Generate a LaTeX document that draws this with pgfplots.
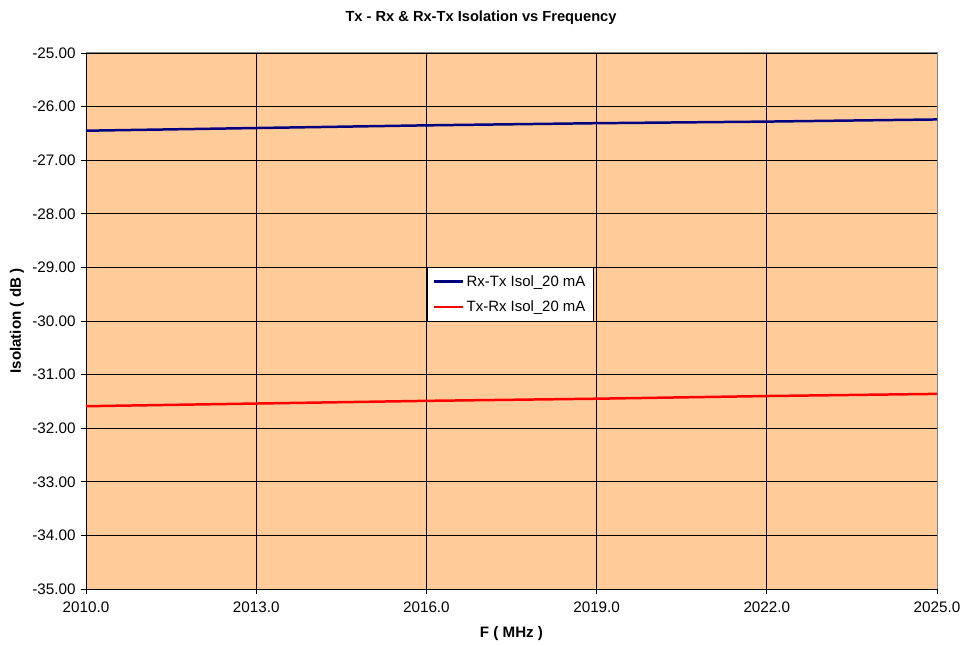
\documentclass[border=0pt]{standalone}
\usepackage{fontspec}
\setmainfont{Liberation Sans}
\usepackage{pgfplots}
\pgfplotsset{compat=1.18}
\definecolor{peach}{HTML}{FFCC99}
\definecolor{navy}{HTML}{000080}
\begin{document}
\begin{tikzpicture}[x=1bp,y=1bp]
\path[use as bounding box] (0,0) rectangle (962,646);
\begin{axis}[
  at={(86bp,57bp)}, anchor=south west,
  scale only axis, width=851bp, height=536bp,
  xmin=2010, xmax=2025, ymin=-35, ymax=-25,
  xtick={2010,2013,...,2025}, ytick={-35,-34,...,-25},
  axis background/.style={fill=peach},
  grid=major, major grid style={black, line width=0.8pt},
  axis line style={black, line width=0.8pt},
  tick style={black, line width=0.8pt},
  tick align=outside, tickpos=left,
  major tick length=5bp,
  /pgf/number format/assume math mode=true,
  xticklabel style={/pgf/number format/.cd, fixed, fixed zerofill, precision=1, 1000 sep={}, /tikz/.cd, yshift=-4bp},
  yticklabel style={/pgf/number format/.cd, fixed, fixed zerofill, precision=2, /tikz/.cd, xshift=-2bp},
  tick label style={font=\fontsize{15.3}{17}\selectfont},
  xlabel={\textbf{F ( MHz )}},
  ylabel={\textbf{Isolation ( dB )}},
  label style={font=\fontsize{15.2}{17}\selectfont},
  xlabel style={at={(axis description cs:0.5,-0.084)}, anchor=center},
  ylabel style={at={(axis description cs:-0.0811,0.5)}, anchor=center},
  legend style={at={(0.4007,0.6005)}, anchor=north west, draw=black, fill=white,
    font=\fontsize{15}{17}\selectfont, row sep=9bp, inner xsep=6bp, inner ysep=6bp},
  legend image code/.code={\draw[#1] (0bp,0bp) -- (29bp,0bp);},
  legend cell align=left,
  clip=false,
]
\addplot[navy, line width=2.5pt] coordinates {
(2010,-26.45) (2013,-26.40) (2016,-26.35) (2019,-26.31) (2022,-26.28) (2025,-26.24)};
\addlegendentry{Rx-Tx Isol\_20 mA}
\addplot[red, line width=2.5pt] coordinates {
(2010,-31.59) (2013,-31.54) (2016,-31.49) (2019,-31.45) (2022,-31.40) (2025,-31.36)};
\addlegendentry{Tx-Rx Isol\_20 mA}
\draw[gray, line width=1pt] (rel axis cs:0,1) -- (rel axis cs:1,1) -- (rel axis cs:1,0);
\end{axis}
\node[font=\bfseries\fontsize{14.7}{17}\selectfont] at (481,628) {Tx - Rx \& Rx-Tx Isolation vs Frequency};
\end{tikzpicture}
\end{document}
